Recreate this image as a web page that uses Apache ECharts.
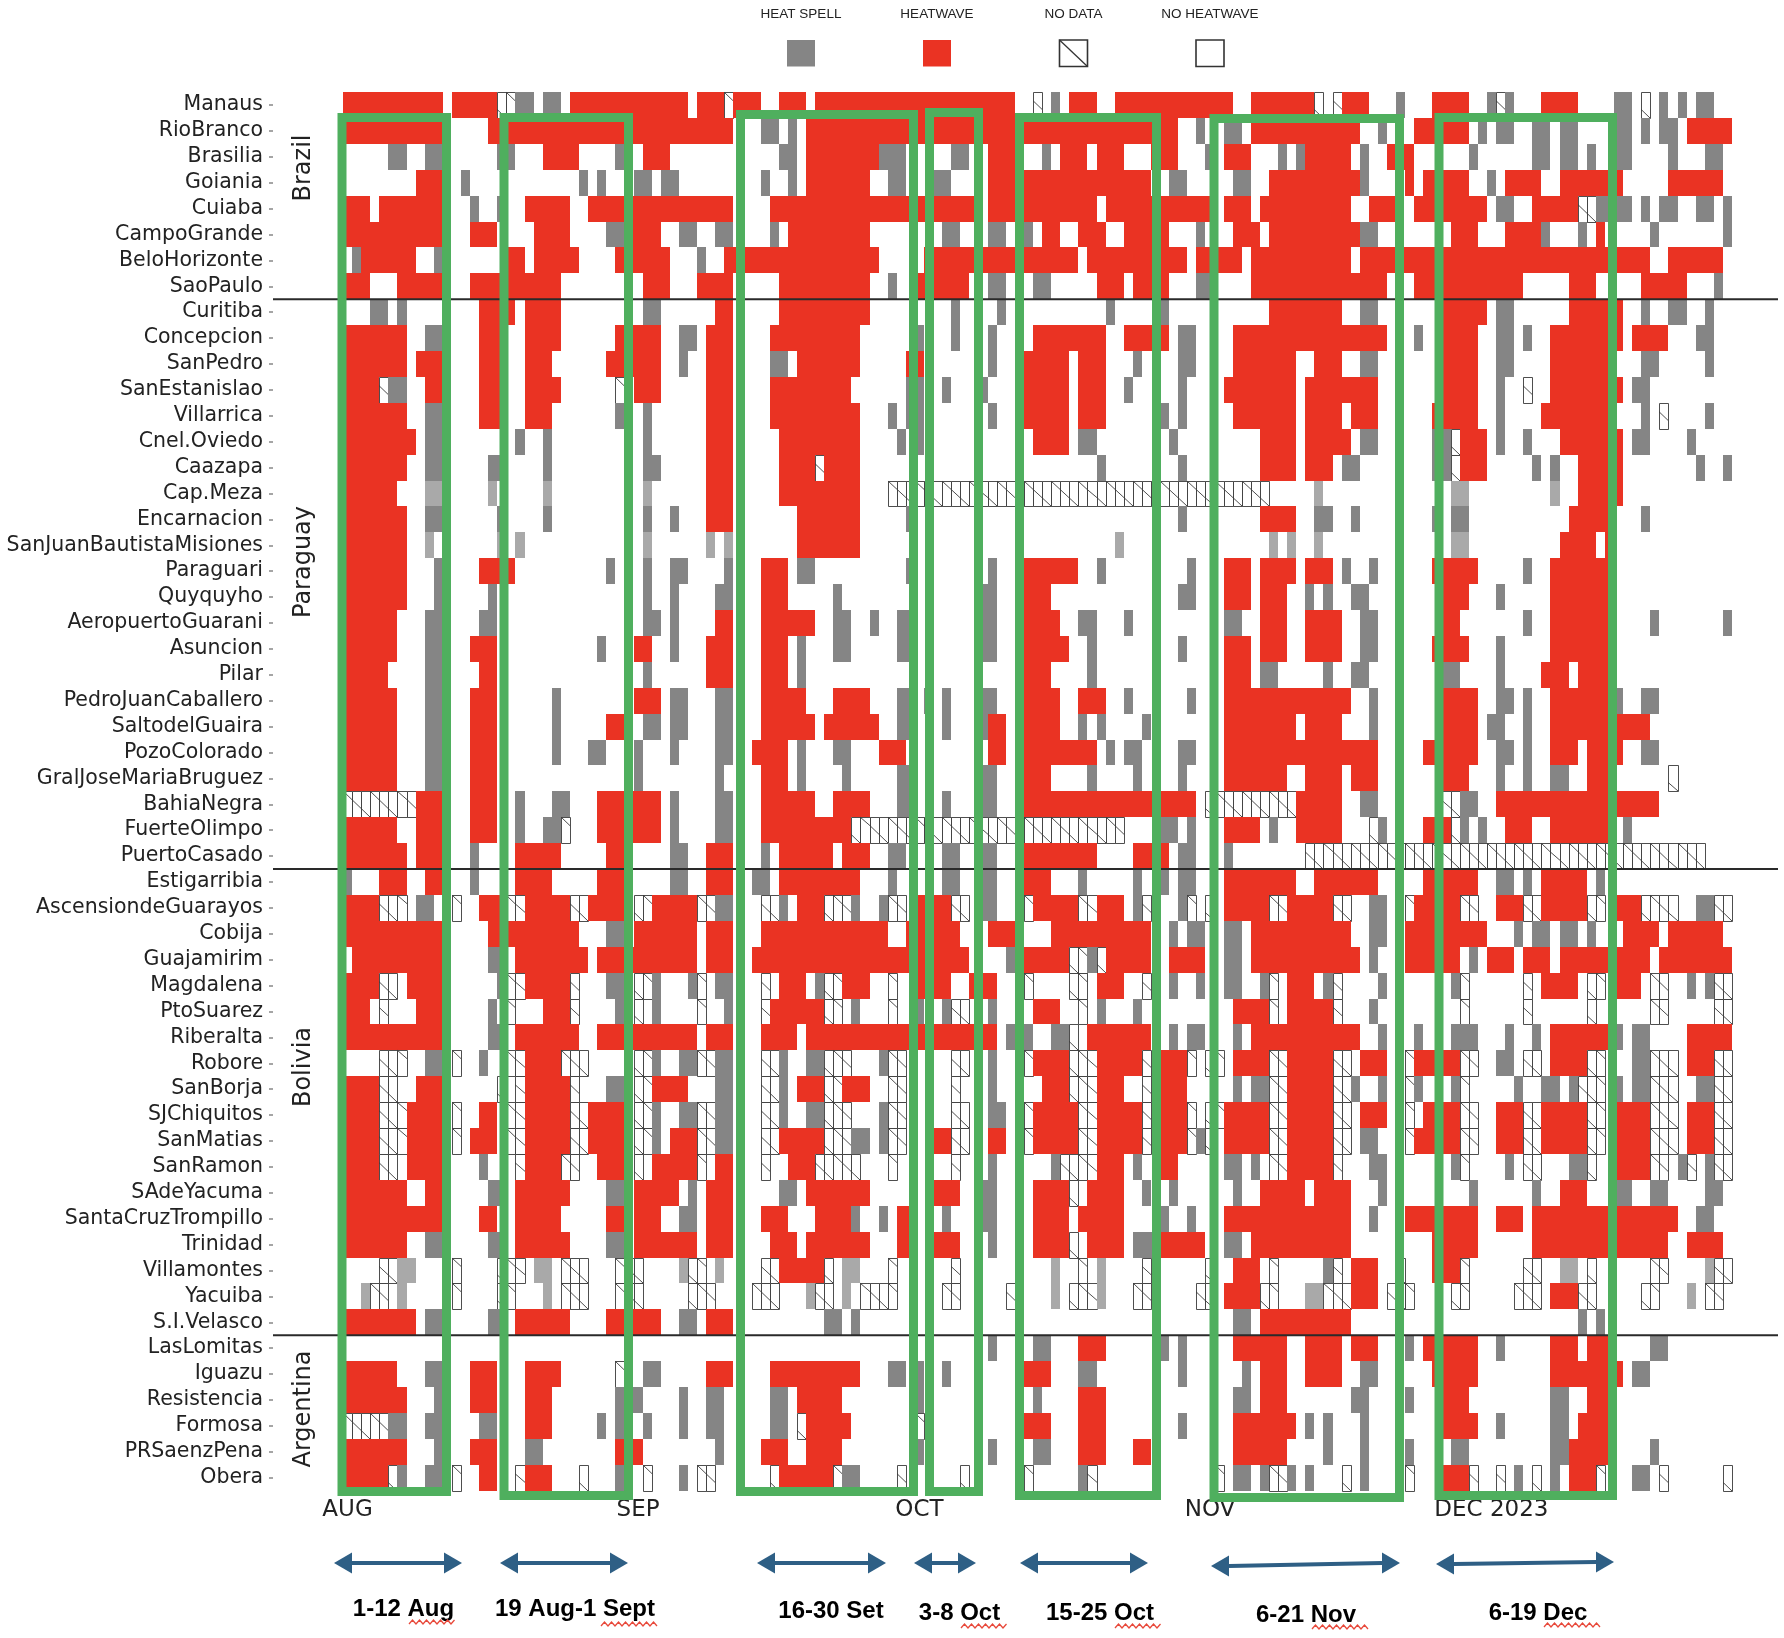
<!DOCTYPE html>
<html><head><meta charset="utf-8">
<style>html,body{margin:0;padding:0;background:#fff}#c{width:1784px;height:1638px}</style>
<script src="https://cdn.jsdelivr.net/npm/echarts@6/dist/echarts.min.js"></script>
</head><body><div id="c"></div>
<script>
const stations = ["Manaus","RioBranco","Brasilia","Goiania","Cuiaba","CampoGrande","BeloHorizonte","SaoPaulo",
"Curitiba","Concepcion","SanPedro","SanEstanislao","Villarrica","Cnel.Oviedo","Caazapa","Cap.Meza","Encarnacion","SanJuanBautistaMisiones","Paraguari","Quyquyho","AeropuertoGuarani","Asuncion","Pilar","PedroJuanCaballero","SaltodelGuaira","PozoColorado","GralJoseMariaBruguez","BahiaNegra","FuerteOlimpo","PuertoCasado",
"Estigarribia","AscensiondeGuarayos","Cobija","Guajamirim","Magdalena","PtoSuarez","Riberalta","Robore","SanBorja","SJChiquitos","SanMatias","SanRamon","SAdeYacuma","SantaCruzTrompillo","Trinidad","Villamontes","Yacuiba","S.I.Velasco",
"LasLomitas","Iguazu","Resistencia","Formosa","PRSaenzPena","Obera"];
const dayCount = 153;
const monthTicks = {0:"AUG",32:"SEP",63:"OCT",95:"NOV",126:"DEC 2023"};
// H heatwave, S heat spell, L heat spell (faded), N no data; day ranges
const brazilRuns = [
"H0-10 H12-16 N17-18 S19-20 S22-23 H25-37 H39-41 N42 H43-45 H48-50 H52-73 N76 S78 H80-82 H85-97 H100-106 N107 N109 H110-112 S116 H120-123 S126 N127 S128 H132-135 S140-141 N143 S145 S147 S149-150",
"H0-10 H16-42 S46-47 S49 H51-91 S94 S97-98 H100-111 S114 H118-123 S125 S127-128 S131-132 S134-135 S140-141 S143 S145-146 H148-152",
"S5-6 S9-10 S17-18 H22-25 S30 H33-35 S48-49 H51-58 S59-61 S67-68 H71-73 S77 H79-81 H83-85 H89-91 S95 H97-99 S103 S105 H106-110 S112 H115-117 S124 S131-132 S134-135 S137 S140-141 S146 S150-151",
"H8-10 S13 S26 S28 S32-33 S35-36 S46 S49 H51-57 S60-61 S65-66 H71-73 H75-88 S91-92 S98-99 H102-111 S112 H117 H119-123 S126 H128-131 H134-140 H146-151",
"H0-2 H4-10 S14 S17 H20-24 H27-42 H47-69 H71-73 H74-82 H84-95 H97-99 H101-110 H113-115 H118-125 S127-128 H131-135 N136-137 S138-141 S143 S145-146 S149-150 S152",
"H0-10 H14-16 H21-24 S29-30 H31-34 S37-38 S41-42 S47 H49-57 S66-67 S71-72 S75 H77-78 H81-83 H86-90 S94 H98-100 H102-111 S112-113 H122-124 H128-131 S132 S136 H138 S144 S152",
"S1 H2-7 S10 H18-19 H21-25 H30-35 S39 H42-58 H64-75 H76-80 H82-92 H94-98 H100-110 H112-143 H146-151",
"H0-2 H6-10 H14-23 H33-35 H39-42 H48-57 S60 H63-68 S71-72 S76-77 H83-85 H87-90 S94-95 H100-114 H118-129 H135-137 H143-147 S151"];
const paraguayRuns = [
"S3-4 S6 H15-18 H20-23 S33-34 H41-42 H48-57 S67 S72 S84 S90 H102-109 S112-113 H121-125 S127-128 H135-140 S143 S146-147 S150",
"H0-6 S9-10 H15-17 H20-23 H30-34 S37-38 H40-42 H47-56 S63 S67 S71 H76-83 H86-90 S92-93 H98-114 S118 H121-124 S127-128 S130 H133-140 H142-145 S149-150",
"H0-6 H8-10 H15-17 H20-22 H29-34 S37 H40-42 S47-48 H50-56 H62-63 S71 H75-79 H81-83 S87 S92-93 H98-104 H107-109 S112-113 H121-124 S127-128 H133-139 S143-144 S150",
"H0-3 N4 S5-6 H9-10 H15-17 H20-23 N30 H32-34 H40-42 H47-55 S62-63 S66 S70 H75-79 H81-83 S86 S92 H97-104 H106-113 H121-124 S127 N130 H133-139 H140 S142-143",
"H0-6 S9-10 H15-17 H20-22 S30 S33 H40-42 H47-56 S60 S62-63 S71 H75-79 H81-83 S90 S92 H98-104 H106-109 H111-113 H120-124 S127 H132-139 S143 N145 S150",
"H0-7 S9-10 S19 S22 S33 H40-42 H48-56 S61 S63 H76-79 S81-82 S91 H101-104 H106-110 S112-113 S120-121 N122 H123-125 S127 S130 H134-140 S142-143 S148",
"H0-6 S9-10 S16-17 S22 S33-34 H40-42 H48-51 N52 H53-56 S83 S92 H101-104 H106-108 S110-111 S120-121 N122 H123-125 S131 S133 H136-140 S149 S152",
"H0-5 L9-10 L16 L22 L33 H40-42 H48-56 N60-101 L107 L122-123 L133 H136-140",
"H0-6 S9-10 S17 S22 S33 S36 H40-42 H50-56 S62 S92 H101-104 S107 S108 S111 S120 S122-123 H135-139 S143",
"H0-6 L9 L17 L19 L33 L40 L42 H50-56 L85 L102 L104 L107 L122-123 H134-137 H139",
"H0-6 S10 H15-18 S29 S33 S36-37 S42 H46-48 S50-51 S62 S71 H75-80 S83 S93 H97-99 H101-104 H106-108 S110 S113 H120-124 S130 H133-139",
"H0-6 S10 S16 S33 S36 S41-42 H46-48 S54 S70-71 H75-77 S92-93 H97-99 H101-103 S106 S108 S111-112 H121-123 S127 H133-139",
"H0-5 S9-10 S15-16 S33-34 S36 H41-42 H46-51 S54-55 S58 S61-62 S70-71 H75-78 S81-82 S86 S97-98 H101-103 H106-109 S112-113 H121-122 S130 H133-139 S144 S152",
"H0-5 S9-10 H14-16 S28 H32-33 S36 H40-42 H46-48 S50 S54-55 S61-62 S70-71 H75-79 S82 S92 H97-99 H101-103 H106-109 S112-113 H120-123 S127 H133-139",
"H0-4 S9-10 H15-16 S33 H40-42 H46-48 S50 H75-77 S82 H97-99 S101-102 S108 S111-112 S121-122 S127 H132-134 H136-139",
"H0-5 S9-10 H14-16 S23 H32-34 S36-37 S41-42 H46-50 H54-57 S61-62 S64 S66 S70-71 H75-78 H81-83 S86 S93 H97-110 S113 H121-124 S127-128 S130 H133-139 S140 S143-144",
"H0-5 S9-10 H14-16 S23 H29-30 S33-34 S36-37 S41-42 H46-51 H53-58 S61-62 S66 S70 H71-72 H75-78 S81 S83 S88 H97-104 H106-109 S113 H121-124 S126-127 S130 H133-139 H140-143",
"H0-5 S9-10 H14-16 S23 S27-28 S32 S36 S41-42 H45-48 S50 S54-55 H59-61 H71-72 H75-82 S84 S86-87 S92-93 H97-113 H119-124 S127-128 S130 H133-135 H137-139 H140 S143-144",
"H0-5 S9-10 H14-16 S32 S41 H46-48 S50 S55 S61-62 S70-71 H75-77 S82 S87 S92 H97-103 H106-109 H111-113 H121-123 S127 S130 S133-134 H137-139 N146",
"N0-7 H8-10 H14-16 S19 S23-24 H28-34 S36 S41-42 H46-51 H54-57 S61-62 S66 S70-71 H75-93 N95-104 H105-109 S112-113 N121-122 S123-124 H127-139 H140-144",
"H0-5 H8-10 H14-16 S19 S22-23 N24 H28-34 S36 S41-42 H46-55 N56-85 S90-91 S93 H97-100 S102 H105-109 N113 S114 H119-121 N122 S123 S125 H128-130 H133-139 S141",
"H0-6 H8-10 S14 H19-23 H29-30 S36-37 H40-42 S46 H48-53 H55-57 S60-61 S66-67 S70-71 H75-82 H87-90 S92-93 S97 N106-149"];
const boliviaRuns = [
"S0 H4-6 H9-10 S14 H19-22 H28-30 S36-37 H40-42 S45-46 H48-56 S60 S66-67 S70-71 H75-77 S81 S87 S90 S92-93 H97-104 H107-113 H119-124 S127-128 S130 H132-136 S138",
"H0-3 N4-6 S8-9 N12 H15-17 N18-19 H20-24 N25-26 H27-30 N32-33 H34-38 N39-40 S41-42 N46-47 S48 H50-52 N53-55 S56 S59 N60-61 H63-66 N67-68 S70-71 N75 H76-80 N81-82 H83-85 S87 N88 S92 N93 N95 H97-101 N102-103 H104-108 N109-110 S113-114 N117 H118-122 N123-124 H127-129 N130-131 H132-136 N137-138 H140-142 N143-146 S149-150 N151-152",
"H0-10 H16-17 H18-25 S29-30 H32-38 H40-42 H46-59 H62-67 H71-73 H78-88 S91 S93-94 S97-98 H100-110 S113-114 H117-125 S129 S131-132 S134-135 S137 H141-144 H146-151",
"H1-10 S16-17 H19-26 H28-38 H40-42 H45-62 H63-68 S73 H74-79 N80-81 S82 N83 H84-88 H91-94 S97-98 H100-111 S113 H117-122 S124 H126-128 H130-132 H134-143 H145-152",
"H0-3 N4-5 H7-10 S17 N18-19 H20-24 N25 S29-30 N32-33 S34 S38 N39 S41-42 N46 H48-50 S52 N53-54 H55-57 N60 H63-66 H69-71 N75 N80-81 H83-85 N88 S91 S94 S97-98 S101 N102 H104-106 S108 N109 S114 S122 N123 N130 H132-135 N137-138 H140-142 N144-145 S148 S150 N151-152",
"H0-2 N4 H8-10 S16 N18 H22-24 N25 S30 N32 S34 N39 S42 N46 H47-52 N53-54 S56 N60 S63 S66 N67-68 S71 H76-78 N81 S83 S87 H98-101 N102 H104-108 N109 S113 N123 N130 N137 N144-145 N151-152",
"H0-10 S16-17 H19-25 H28-38 H40-42 H46-49 H51-62 H63-71 S73-75 S78-79 N80 H82-88 S91 S93-94 S98 H100-111 S114 S118 S122 S123-124 S128 S131 H133-139 S140 S142-143 H148-152",
"N4-6 S9-10 N12 S15 N18-19 H20-23 N24-26 N32-33 S34 S37-38 N39-40 S41-42 N46-47 S48 S51-52 N53-55 S59 N60-61 N67-68 S71 N75 H76-79 N80-82 H83-87 N88 H90-92 N93 N95-96 H98-101 N102-103 H104-108 N109-110 H112-114 N117 H118-122 N123-124 S127-128 N130-131 H133-136 N137-138 S142-143 N144-146 H148-150 N151-152",
"H0-3 N4-5 H8-10 N17 N19 H20-24 N25 S29-30 N32-33 H34-37 S41-42 N46-47 S48 H50-52 N53-54 H55-57 N60-61 N67 S71 H77-79 N80-82 H83-85 N88 H90-92 S98 S100-101 N102-103 H104-108 N109-110 S111 S114 N117 S118 S122 N123 S129 S132-133 S135 N136-138 S140 S142-143 N144-146 S149-150 N151-152",
"H0-3 N4-6 H7-10 N12 H15-16 N18-19 H20-24 N25-26 H27-30 N32-33 S34 S37-38 N39-40 S41-42 N46-47 S48 S51-52 N53-55 S59 N60-61 N67-68 S71-72 N75 H76-80 N81-82 H83-87 N88 H90-92 N93 N95-96 H97-101 N102-103 H104-108 N109-110 H112-114 N117 H119-122 N123-124 H127-129 N130-131 H132-136 N137-138 H140-143 N144-146 H148-150 N151-152",
"H0-3 N4-6 H7-10 N12 H14-16 N18-19 H20-24 N25-26 H27-30 N32-33 S34 H36-38 N39-40 S41-42 N46-47 H48-52 N53-55 S56-57 S59 N60-61 H65-66 N67-68 H71-72 N75 H76-80 N81-82 H83-87 N88 H90-92 N93 S94 N95 H97-101 N102-103 H104-108 N109-110 S112-113 N117 H118-122 N123-124 H127-129 N130-131 H132-136 N137-138 H140-143 N144-146 H148-150 N151-152",
"H0-3 N4-5 H7-10 S15 N19 H20-23 N24-25 H28-30 N32 H34-38 N39 H41-42 N46 H49-51 N52-56 N60 N67 S71 S78 N79-82 H83-85 S87 H90-91 S97-98 S100 N102-103 H104-108 N109 S113-114 S122 N123 S128 N130-131 S135-136 N137 H140-143 N144-145 S147 N148 S150 N151-152",
"H0-6 H9-10 S16-17 H19-24 S29-30 H32-36 S38 H40-42 S48-49 H51-57 H65-67 S70-71 H76-79 N80 H82-85 S88 S91 S98 H101-105 H107-110 S114 S124 S131 H134-136 S140-141 S144-145 S150-151",
"H0-10 H15-16 H19-23 H29-30 H32-34 S37-38 H40-42 H46-48 H52-55 S56 S59 H61-62 S66 S70-71 H76-79 H81-85 S90 S93 H97-110 S113 H117-124 H127-129 H131-146 S149-150",
"H0-6 S9-10 S16-17 H19-24 S29-30 H32-38 H40-42 H47-49 H51-57 H61-62 H65-67 S71 H76-79 N80 H82-85 S87-89 H90-94 S97-98 H100-110 H120-124 H131-145 H148-151",
"N4-5 L6-7 N12 N17-19 L21-22 N24-26 N30-32 L37 N38-39 L41 N46-47 H48-52 N53 L55-56 N60 N67 L78 N81 L83 N88 N95 H98-100 N102 S108 N109 H111-113 N116 H120-122 N123 N130-131 L134-135 N137 N144-145 L150 N151-152",
"L2 N3-4 L6 N12 N17-18 L22 N24-26 N30-32 N38-40 N45-47 L51 N52-53 L55 N57-60 N66-67 N73 L78 N80-82 L83 N87-88 N94-95 H97-100 N101-102 L106-107 N108-110 H111-113 N115-117 N122-123 N129-131 H133-135 N136-137 N143-144 L148 N150-151",
"H0-7 S9-10 S16-17 H19-24 H29-34 S37-38 H40-42 S53-54 S56 S98-99 H101-110 S136 S138"];
const argentinaRuns = [
"S71 S76-77 H81-83 S90 S92 H98-103 H106-109 H111-113 S117 H119-124 S127 H133-135 H137-139 S144-145",
"H0-5 S9-10 H14-16 H20-23 N30 S33-34 H40-42 H47-56 S60-61 S63 S66 H75-77 S81-82 S92 S99 H101-103 H106-109 S112-113 H120-124 H133-139 H140 S142-143",
"H0-6 S10 H14-16 H20-22 S30-32 S37 S40-41 S47-48 H50-54 S63 S76 H81-83 S98-99 H101-103 S111-112 S117 H121-123 S133-134 H137-139",
"N0-4 S5-6 S9-10 S15-16 H20-22 S28 S30 S33 S37 S40-41 S47-48 N50 H51-55 N63 H75-77 H81-83 S92 H98-104 S106 S108 S112 H121-124 S127 S133-134 H136-139",
"H0-6 S10 H14-16 S20-21 H30-32 S41 H46-48 H51-54 S63 S71 S76-77 H81-83 H87-88 H98-103 S108 S112 S117 S122-123 S133-134 H135-139 S144",
"H0-4 N5 S6 S9-10 N12 H15-16 N19 H20-22 N26 S30 N33 S37 N39-40 N47 H48-53 N54 S55-56 N61 N68 N75 S81 N82 N96 S98-99 S101 N102-103 S104 S106 N110 S112 N117 H121-123 N124 N127 S129 N131 S133 H135-137 N138 S142-143 N145 N152"];
const regionLabels = [["Brazil",168],["Paraguay",562],["Bolivia",1067],["Argentina",1409]];
const separatorRows = [8,30,48];
const legendItems = [["HEAT SPELL","S",801],["HEATWAVE","H",937],["NO DATA","N",1073.5],["NO HEATWAVE","E",1210]];
const periodBoxes = [[337.5,451,113,1496],[499.5,633,113,1500],[736,918,110,1496],[925,983,108,1496],[1015,1161,113,1500],[1209.5,1404,114,1502],[1434.5,1617,113,1500]];
const periodArrows = [[334,1563,462,1563],[500,1563,628,1563],[757,1563,886,1563],[914,1563,976,1563],[1020,1563,1148,1563],[1211,1566,1400,1563],[1436,1564,1614,1562]];
const periodLabels = [["1-12 Aug",403.5,1609],["19 Aug-1 Sept",575,1609],["16-30 Set",831,1611],["3-8 Oct",959.5,1613],["15-25 Oct",1100,1613],["6-21 Nov",1306,1615],["6-19 Dec",1538,1613]];
const squiggles = [[409,456,1622],[601,659,1624],[961,1007,1626],[1115,1161,1626],[1312,1369,1627],[1544,1601,1625]];

const COLORS = {H:"#EA3323",S:"#858585",L:"#A9A9A9"};
const allRuns = brazilRuns.concat(paraguayRuns,boliviaRuns,argentinaRuns);
const cells = [];
allRuns.forEach((s,r)=>{
  const row = {};
  s.split(/\s+/).forEach(tok=>{
    const m = tok.match(/^([HSLN])(\d+)(?:-(\d+))?$/);
    if(!m) return;
    const a=+m[2], b=m[3]?+m[3]:a;
    for(let d=a;d<=b;d++) row[d]=m[1];
  });
  Object.keys(row).forEach(d=>cells.push([+d,r,row[d]]));
});
const days = Array.from({length:dayCount},(_,i)=>String(i));
const snap = v => Math.round(Math.round(v*100)/100);

const G = {l:343,t:92,w:1389,h:1398.6};
const gfx = [];
separatorRows.forEach(r=>{
  const y=G.t+r*G.h/stations.length;
  gfx.push({type:"line",z:50,shape:{x1:273,y1:y,x2:1778,y2:y},style:{stroke:"#2a2a2a",lineWidth:2}});
});
regionLabels.forEach(([t,y])=>gfx.push({type:"text",z:60,x:304,y:y,rotation:Math.PI/2,
  style:{text:t,font:'24px "DejaVu Sans"',fill:"#222",align:"center",verticalAlign:"middle"}}));
periodBoxes.forEach(([a,b,c,d])=>gfx.push({type:"rect",z:70,shape:{x:a+4.5,y:c+4.5,width:b-a-9,height:d-c-9},
  style:{fill:"none",stroke:"#4FAF5E",lineWidth:9}}));
periodArrows.forEach(([x1,y1,x2,y2])=>{
  const hw=18,hh=10.5;
  gfx.push({type:"line",z:70,shape:{x1:x1+hw,y1:y1,x2:x2-hw,y2:y2},style:{stroke:"#2E5F85",lineWidth:4}});
  gfx.push({type:"polygon",z:70,shape:{points:[[x1,y1],[x1+hw,y1-hh],[x1+hw,y1+hh]]},style:{fill:"#2E5F85"}});
  gfx.push({type:"polygon",z:70,shape:{points:[[x2,y2],[x2-hw,y2-hh],[x2-hw,y2+hh]]},style:{fill:"#2E5F85"}});
});
periodLabels.forEach(([t,x,y])=>gfx.push({type:"text",z:72,x:x,y:y,
  style:{text:t,font:'bold 24px "Liberation Sans"',fill:"#000",align:"center",verticalAlign:"middle"}}));
squiggles.forEach(([a,b,y])=>{
  const pts=[];let up=false;
  for(let x=a;x<=b;x+=3.5){pts.push([x,y+(up?-2:2)]);up=!up;}
  gfx.push({type:"polyline",z:72,shape:{points:pts},style:{stroke:"#E8483A",lineWidth:1.3,fill:"none"}});
});
legendItems.forEach(([t,k,x])=>{
  gfx.push({type:"text",z:72,x:x,y:14,style:{text:t,font:'13.5px "Liberation Sans"',fill:"#222",align:"center",verticalAlign:"middle"}});
  const w=28,xx=x-w/2,y0=40,h=26.5;
  if(k==="S"||k==="H") gfx.push({type:"rect",z:72,shape:{x:xx,y:y0,width:w,height:h},style:{fill:COLORS[k]}});
  else{
    gfx.push({type:"rect",z:72,shape:{x:xx,y:y0,width:w,height:h},style:{fill:"#fff",stroke:"#333",lineWidth:1.6}});
    if(k==="N") gfx.push({type:"line",z:72,shape:{x1:xx,y1:y0,x2:xx+w,y2:y0+h},style:{stroke:"#333",lineWidth:1.3}});
  }
});

const chart = echarts.init(document.getElementById("c"),null,{renderer:"canvas"});
chart.setOption({
  animation:false,
  backgroundColor:"#fff",
  grid:{left:G.l,top:G.t,width:G.w,height:G.h,containLabel:false},
  xAxis:{type:"category",data:days,position:"bottom",
    axisLine:{show:false},splitLine:{show:false},
    axisTick:{show:false},
    axisLabel:{interval:0,margin:8,fontFamily:"DejaVu Sans",fontSize:23,color:"#222",showMinLabel:true,showMaxLabel:false,hideOverlap:false,
      formatter:(v,i)=>monthTicks[i]||""}},
  yAxis:{type:"category",inverse:true,data:stations,offset:70,
    axisLine:{show:false},splitLine:{show:false},
    axisTick:{show:true,length:4,alignWithLabel:true,lineStyle:{color:"#888",width:1.5}},
    axisLabel:{interval:0,margin:10,fontFamily:"DejaVu Sans",fontSize:20.5,color:"#222",padding:[4,0,0,0]}},
  graphic:{elements:gfx},
  series:[{
    type:"custom",clip:false,z:2,
    encode:{x:0,y:1},
    data:cells,
    renderItem:(p,api)=>{
      const c=api.coord([api.value(0),api.value(1)]);
      const s=api.size([1,1]);
      const x=snap(c[0]-s[0]/2),y=snap(c[1]-s[1]/2);
      const w=snap(c[0]+s[0]/2)-x,h=snap(c[1]+s[1]/2)-y;
      const k=cells[p.dataIndex][2];
      if(k==="N"){
        const seg=api.value(0)%3;
        return {type:"group",children:[
          {type:"rect",shape:{x:x+0.5,y:y+0.5,width:w,height:h},style:{fill:"#fff",stroke:"#3a3a3a",lineWidth:0.9}},
          {type:"line",shape:{x1:x,y1:y+seg*h/3,x2:x+w,y2:y+(seg+1)*h/3},style:{stroke:"#3a3a3a",lineWidth:0.9}}
        ]};
      }
      return {type:"rect",shape:{x,y,width:w,height:h},style:{fill:COLORS[k]}};
    }
  }]
});
</script></body></html>
